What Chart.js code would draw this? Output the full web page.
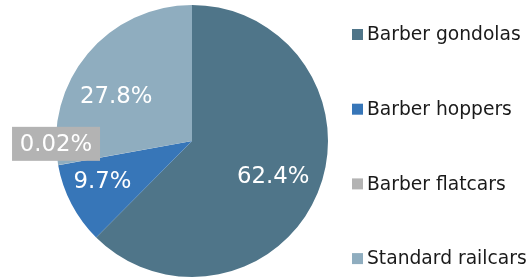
<!DOCTYPE html>
<html>
<head>
<meta charset="utf-8">
<script src="https://cdn.jsdelivr.net/npm/chart.js@4/dist/chart.umd.min.js"></script>
<style>
  html, body { margin: 0; padding: 0; background: #fff; }
  #wrap { width: 529px; height: 279px; position: relative; }
</style>
</head>
<body>
<div id="wrap"><canvas id="railcarChart"></canvas></div>
<script>
// chart data
const categories = ['Barber gondolas', 'Barber hoppers', 'Barber flatcars', 'Standard railcars'];
const shares = [62.4, 9.7, 0.02, 27.8];
const shareLabels = ['62.4%', '9.7%', '0.02%', '27.8%'];
const sliceColors = ['#4f7589', '#3776b8', '#b3b3b3', '#8fadbf'];

// labels placed inside (or next to) each slice
const sliceLabels = {
    id: 'sliceLabels',
    afterDatasetsDraw(chart, args, opts) {
        const ctx = chart.ctx;
        const arcs = chart.getDatasetMeta(0).data;
        ctx.save();
        ctx.font = '22.8px "DejaVu Sans"';
        ctx.textAlign = 'center';
        ctx.textBaseline = 'middle';
        arcs.forEach((arc, i) => {
            const p = arc.getProps(['x', 'y', 'startAngle', 'endAngle', 'outerRadius']);
            const a = (p.startAngle + p.endAngle) / 2 + opts.angleShift[i] * Math.PI / 180;
            const r = p.outerRadius * opts.radius[i];
            const x = p.x + Math.cos(a) * r;
            const y = p.y + Math.sin(a) * r;
            const txt = shareLabels[i];
            if (opts.boxed[i]) {
                const w = 88;
                ctx.fillStyle = sliceColors[i];
                ctx.fillRect(x - w / 2, y - 17, w, 34);
            }
            ctx.fillStyle = '#ffffff';
            ctx.fillText(txt, x, y + 1);
        });
        ctx.restore();
    }
};

// legend with wide row spacing on the right
const sideLegend = {
    id: 'sideLegend',
    afterDraw(chart, args, opts) {
        const ctx = chart.ctx;
        ctx.save();
        ctx.font = '18.7px "DejaVu Sans"';
        ctx.textBaseline = 'middle';
        categories.forEach((name, i) => {
            const cy = opts.top + i * opts.step;
            ctx.fillStyle = sliceColors[i];
            ctx.fillRect(opts.x, cy - 5.5, 11, 11);
            ctx.fillStyle = '#1a1a1a';
            ctx.fillText(name, opts.x + 15, cy + 1);
        });
        ctx.restore();
    }
};

new Chart(document.getElementById('railcarChart'), {
    type: 'pie',
    data: {
        labels: categories,
        datasets: [{
            data: shares,
            backgroundColor: sliceColors,
            borderWidth: 0
        }]
    },
    options: {
        responsive: true,
        maintainAspectRatio: false,
        animation: false,
        layout: { padding: { left: 56, right: 201, top: 5, bottom: 2 } },
        plugins: {
            legend: { display: false },
            tooltip: { enabled: false },
            sliceLabels: {
                radius: [0.65, 0.72, 1.0, 0.65],
                angleShift: [0.7, 3.8, 9, -9],
                boxed: [false, false, true, false]
            },
            sideLegend: { x: 352, top: 34.5, step: 74.7 }
        }
    },
    plugins: [sliceLabels, sideLegend]
});
</script>
</body>
</html>
